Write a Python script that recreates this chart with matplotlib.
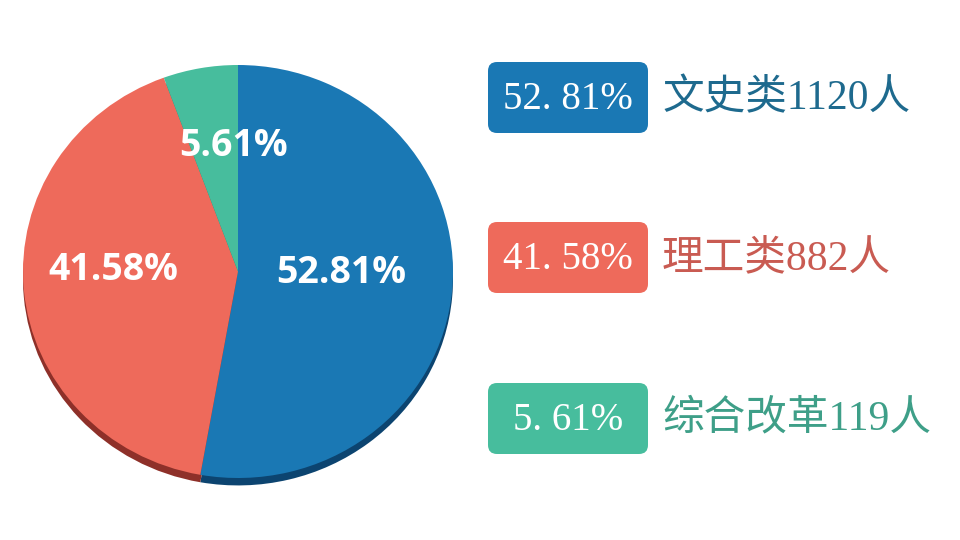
import matplotlib
matplotlib.use("Agg")
import matplotlib.pyplot as plt
import numpy as np
from matplotlib.patches import FancyBboxPatch

categories = ["文史类", "理工类", "综合改革"]
counts = [1120, 882, 119]
colors = ["#1A78B4", "#EE6A5B", "#47BD9D"]
shadow_colors = ["#0C4470", "#8E3029", "#2A7F67"]
text_colors = ["#1E6A8E", "#C95B52", "#3E9F88"]

total = sum(counts)
pcts = [c / total * 100 for c in counts]
pct_labels = [f"{p:.2f}%" for p in pcts]

fig = plt.figure(figsize=(9.6, 5.4), dpi=100)
fig.patch.set_facecolor("white")

# pie axes (pixel box: x 23..453, y 65..478)
W, H = 960, 540
left, right, top, bottom = 23, 453, 65, 478
ax = fig.add_axes([left / W, (H - bottom) / H, (right - left) / W, (bottom - top) / H])
ax.pie(counts, colors=shadow_colors, startangle=90, counterclock=False,
       center=(0, -0.036), radius=1.0, wedgeprops=dict(linewidth=0))
wedges, _ = ax.pie(counts, colors=colors, startangle=90, counterclock=False,
                   radius=1.0, wedgeprops=dict(linewidth=0))
ax.set_aspect("auto")
ax.set_xlim(-1, 1)
ax.set_ylim(-1, 1)
ax.axis("off")

# label placement (polar, relative to wedge middle): (angle shift deg, radial distance)
label_place = [(4.2, 0.48), (-5.8, 0.58), (-8, 0.61)]
for w, lab, (da, d) in zip(wedges, pct_labels, label_place):
    ang = np.deg2rad((w.theta1 + w.theta2) / 2 + da)
    ax.text(d * np.cos(ang), d * np.sin(ang), lab, ha="center", va="center",
            color="white", fontsize=27, fontweight="bold", family=["Open Sans", "DejaVu Sans"])

# legend boxes in pixel coordinates
lax = fig.add_axes([0, 0, 1, 1])
lax.set_xlim(0, W)
lax.set_ylim(H, 0)
lax.axis("off")
box_tops = [62, 222, 383]
box_h = 71
for i, (cat, n, lab) in enumerate(zip(categories, counts, pct_labels)):
    y0 = box_tops[i]
    box = FancyBboxPatch((488, y0), 160, box_h, boxstyle="round,pad=0,rounding_size=9",
                         facecolor=colors[i], edgecolor="none")
    lax.add_patch(box)
    lax.text(568, y0 + box_h / 2 + 2, lab.replace(".", ". "), ha="center", va="center", color="white",
             fontsize=28, family=["Liberation Serif", "Noto Sans CJK SC"])
    lax.text(662, y0 + box_h / 2 + 1, f"{cat}{n}人", ha="left", va="center", color=text_colors[i],
             fontsize=30, family=["Liberation Serif", "Noto Sans CJK SC"])

fig.savefig("out.png", dpi=100, facecolor="white")
